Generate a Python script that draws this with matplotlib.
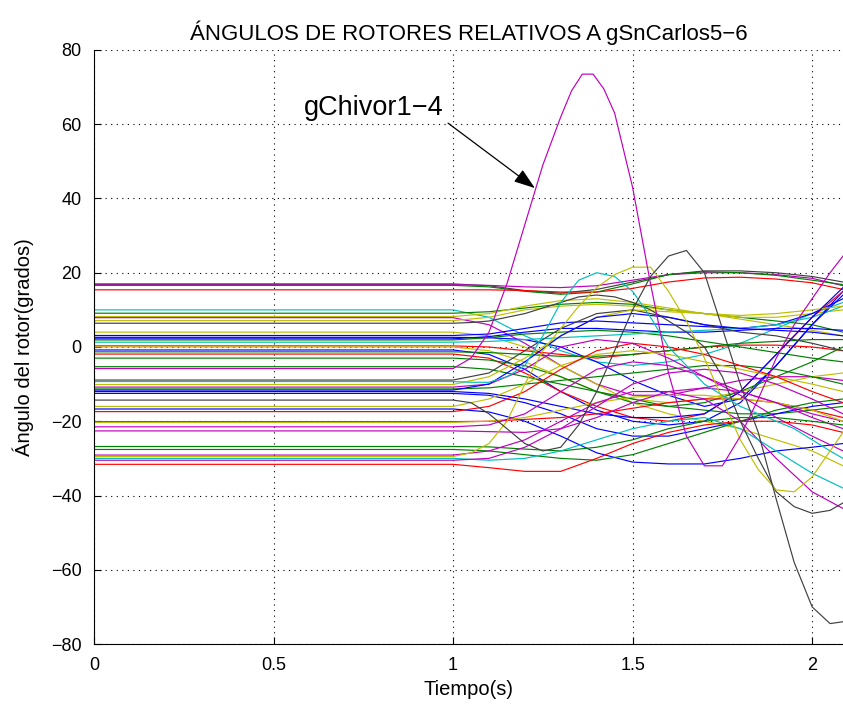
import matplotlib
matplotlib.use("Agg")
import matplotlib.pyplot as plt

plt.rcParams['font.family'] = ['Liberation Sans', 'DejaVu Sans']

# colores tipo MATLAB
B = (0, 0, 1)
G = (0, 0.5, 0)
R = (1, 0, 0)
C = (0, 0.75, 0.75)
M = (0.75, 0, 0.75)
Y = (0.75, 0.75, 0)
K = (0.25, 0.25, 0.25)

# tiempos de lectura (s)
t_coarse = [0, 1.0, 1.1, 1.2, 1.3, 1.4, 1.5, 1.6, 1.7, 1.8, 1.9, 2.0, 2.086]
t_fine = [0, 1.0, 1.05, 1.1, 1.15, 1.2, 1.25, 1.3, 1.35, 1.4, 1.45, 1.5, 1.55,
          1.6, 1.65, 1.7, 1.75, 1.8, 1.85, 1.9, 1.95, 2.0, 2.05, 2.086]
t_chivor = [0, 1.0, 1.05, 1.1, 1.15, 1.2, 1.25, 1.3, 1.33, 1.36, 1.39, 1.42, 1.45,
            1.5, 1.55, 1.6, 1.65, 1.7, 1.75, 1.8, 1.85, 1.9, 1.95, 2.0, 2.05, 2.086]

line_colors = [K, M, G, R, C, G, Y, M, Y,
               Y, B, B, B, G, C, R, Y, B, G,
               R, G, G, K, Y, M, G, B, B,
               B, Y, B, R, R, Y, M, M, G, G,
               M, C, M, R]
coarse_angles = [
    [17.0, 17.0, 16.5, 15.2, 14.5, 15.5, 17.5, 19.5, 20.5, 20.5, 20.0, 19.0, 17.5],
    [16.8, 16.8, 16.6, 16.2, 16.0, 16.5, 18.0, 19.5, 20.0, 20.0, 19.5, 18.5, 16.5],
    [16.6, 16.6, 16.2, 15.0, 14.2, 14.8, 17.0, 19.5, 20.3, 20.0, 19.3, 18.0, 16.8],
    [15.4, 15.4, 15.4, 15.2, 14.8, 14.8, 15.8, 17.5, 18.6, 18.8, 18.3, 17.3, 15.5],
    [10.0, 10.0, 8.0, 3.0, -1.0, -4.0, -5.0, -4.0, -2.0, 1.0, 5.0, 9.0, 12.0],
    [9.1, 9.1, 9.5, 10.5, 11.5, 12.0, 11.5, 10.0, 9.0, 8.0, 7.0, 6.0, 4.0],
    [8.2, 8.2, 9.0, 11.0, 12.5, 13.0, 12.0, 10.5, 9.0, 7.5, 6.0, 4.5, 3.0],
    [7.9, 7.9, 6.0, 1.0, -5.0, -10.0, -13.0, -13.0, -11.0, -9.0, -8.0, -8.0, -9.0],
    [7.1, 7.1, 8.0, 10.0, 11.0, 11.5, 11.0, 10.0, 9.0, 8.0, 8.0, 9.0, 10.0],
    [4.0, 4.0, 3.0, 0.0, -5.0, -10.0, -15.0, -18.0, -20.0, -22.0, -25.0, -28.0, -32.0],
    [3.1, 3.1, 3.5, 5.0, 6.5, 7.0, 6.5, 6.0, 5.5, 5.0, 6.0, 9.0, 13.0],
    [2.6, 2.6, 2.5, 2.0, 0.0, -4.0, -9.0, -13.0, -16.0, -14.0, -5.0, 6.0, 15.0],
    [2.2, 2.2, 2.8, 4.0, 5.0, 5.0, 4.5, 4.0, 4.0, 4.5, 5.0, 5.0, 4.5],
    [1.9, 1.9, 2.5, 3.5, 4.0, 4.5, 4.0, 3.0, 1.5, 0.0, -1.5, -3.0, -4.0],
    [1.3, 1.3, 1.5, 2.0, 2.5, 3.0, 3.5, 4.0, 4.5, 5.0, 6.0, 8.0, 11.0],
    [0.3, 0.3, 0.0, -1.0, -2.0, -3.0, -2.0, -1.0, 0.0, 0.5, 0.5, 0.0, -1.0],
    [0.0, 0.0, -1.0, -4.0, -8.0, -12.0, -14.0, -15.0, -14.0, -12.0, -10.0, -8.0, -7.0],
    [-0.8, -0.8, -2.0, -6.0, -12.0, -17.0, -20.0, -21.0, -20.0, -15.0, -5.0, 6.0, 14.0],
    [-1.3, -1.3, -1.5, -2.0, -2.5, -2.5, -2.0, -1.0, 0.0, 1.0, 1.5, 2.0, 2.0],
    [-1.9, -1.9, -3.0, -7.0, -12.0, -16.0, -19.0, -20.0, -18.0, -12.0, -2.0, 8.0, 15.0],
    [-3.0, -3.0, -3.5, -5.0, -8.0, -12.0, -15.0, -16.0, -15.0, -12.0, -8.0, -4.0, 0.0],
    [-5.3, -5.3, -6.0, -8.0, -10.0, -12.0, -14.0, -16.0, -17.0, -18.0, -18.0, -17.0, -16.0],
    [-8.9, -8.9, -7.0, -1.0, 5.0, 9.0, 10.0, 8.0, 6.0, 4.0, 3.0, 1.0, -1.0],
    [-10.1, -10.1, -8.0, -3.0, 3.0, 8.0, 10.0, 9.5, 9.0, 8.5, 9.0, 10.0, 11.0],
    [-10.8, -10.8, -10.0, -6.0, 0.0, 2.0, 1.0, -3.0, -8.0, -12.0, -15.0, -18.0, -20.0],
    [-11.3, -11.3, -11.0, -10.0, -9.0, -8.0, -7.0, -6.0, -5.0, -5.0, -6.0, -8.0, -10.0],
    [-11.6, -11.6, -10.0, -4.0, 3.0, 8.0, 9.0, 8.0, 6.0, 5.0, 4.5, 4.0, 3.0],
    [-12.0, -12.0, -12.5, -14.0, -16.0, -18.0, -19.0, -19.0, -18.0, -12.0, -2.0, 8.0, 16.0],
    [-12.5, -12.5, -13.0, -15.0, -18.0, -22.0, -24.0, -24.0, -22.0, -20.0, -18.0, -16.0, -15.0],
    [-16.0, -16.0, -14.0, -10.0, -5.0, -2.0, -1.0, -2.0, -4.0, -6.0, -8.0, -10.0, -12.0],
    [-16.7, -16.7, -17.5, -20.0, -24.0, -28.5, -31.0, -31.5, -31.5, -30.0, -28.0, -27.0, -26.0],
    [-17.4, -17.4, -16.0, -12.0, -6.0, -1.0, 1.0, 0.0, -2.0, -5.0, -8.0, -12.0, -15.0],
    [-20.1, -20.1, -20.0, -19.5, -19.0, -18.0, -16.5, -15.0, -14.0, -14.0, -15.0, -17.0, -19.0],
    [-20.3, -20.3, -20.0, -19.0, -17.0, -15.0, -13.5, -13.0, -13.0, -14.0, -15.0, -17.0, -20.0],
    [-21.5, -21.5, -21.0, -18.0, -12.0, -6.0, -4.0, -5.0, -8.0, -13.0, -19.0, -24.0, -28.0],
    [-22.6, -22.6, -22.8, -23.0, -22.0, -19.0, -15.0, -12.0, -11.0, -12.0, -15.0, -19.0, -22.0],
    [-26.8, -26.8, -26.9, -27.5, -28.0, -27.0, -25.0, -22.0, -20.0, -19.0, -19.0, -20.0, -21.0],
    [-27.6, -27.6, -28.0, -29.0, -30.0, -30.5, -29.0, -26.0, -23.0, -20.0, -17.0, -15.0, -14.0],
    [-29.1, -29.1, -28.0, -25.0, -20.0, -15.0, -12.0, -12.0, -14.0, -20.0, -30.0, -39.0, -43.5],
    [-30.0, -30.0, -30.5, -30.0, -28.0, -25.0, -22.0, -20.0, -19.0, -22.0, -28.0, -34.0, -38.0],
    [-30.5, -30.5, -30.0, -27.0, -22.0, -16.0, -10.0, -7.0, -6.0, -7.0, -10.0, -14.0, -18.0],
    [-31.6, -31.6, -32.5, -33.5, -33.5, -30.0, -26.0, -23.0, -21.0, -20.0, -20.0, -21.0, -23.0],
]

fine_colors = [K, C, Y, K]
fine_angles = [
    [6.4, 6.4, 6.6, 7.0, 8.0, 9.0, 10.5, 12.0, 13.5, 14.0, 13.5, 12.0, 10.0,
     7.0, 4.0, 0.0, -8.0, -20.0, -30.0, -39.0, -43.0, -44.8, -44.0, -42.0],
    [-9.3, -9.3, -9.5, -9.5, -8.0, -5.0, 3.0, 12.0, 18.0, 20.0, 19.0, 15.0, 8.0,
     0.0, -5.0, -10.0, -13.0, -16.0, -18.0, -20.0, -22.0, -25.0, -28.0, -30.0],
    [-29.5, -29.5, -28.5, -26.0, -20.0, -10.0, -1.0, 5.0, 11.0, 16.0, 19.5, 21.5, 21.5,
     15.0, 7.0, -3.0, -14.0, -25.0, -33.0, -38.5, -39.0, -35.0, -28.0, -23.0],
    [-14.3, -14.3, -15.0, -18.0, -22.0, -26.0, -28.0, -27.0, -21.0, -12.0, -1.0, 10.0, 19.0,
     24.5, 26.0, 20.0, 5.0, -10.0, -23.0, -41.0, -58.0, -70.0, -74.5, -74.0],
]

chivor = [-5.8, -5.8, -3.0, 4.0, 17.0, 33.0, 49.0, 62.0, 69.0, 73.5, 73.5, 69.5, 63.0,
          43.0, 17.0, -7.0, -24.0, -32.0, -32.0, -24.0, -14.0, -3.0, 6.0, 13.0, 20.0, 24.5]

fig = plt.figure(figsize=(8.43, 7.06), dpi=100)
ax = fig.add_axes([0.1115, 0.0878, 0.8885, 0.8414])

for col, vals in zip(line_colors, coarse_angles):
    ax.plot(t_coarse, vals, color=col, lw=0.85)
for col, vals in zip(fine_colors, fine_angles):
    ax.plot(t_fine, vals, color=col, lw=0.85)
ax.plot(t_chivor, chivor, color=M, lw=0.85)

ax.set_xlim(0, 2.086)
ax.set_ylim(-80, 80)
ax.set_xticks([0, 0.5, 1, 1.5, 2])
ax.set_xticklabels(['0', '0.5', '1', '1.5', '2'])
ax.set_yticks(range(-80, 81, 20))
ax.grid(True, color='black', linestyle=(0, (1, 4)), linewidth=0.8)
ax.spines['top'].set_visible(False)
ax.spines['right'].set_visible(False)
ax.tick_params(direction='in', length=5, labelsize=13, pad=9)

ax.set_title('ÁNGULOS DE ROTORES RELATIVOS A gSnCarlos5\u22126', fontsize=16, pad=7)
ax.set_xlabel('Tiempo(s)', fontsize=14.5, labelpad=5)
ax.set_ylabel('Ángulo del rotor(grados)', fontsize=14.5, labelpad=12)

ax.text(0.78, 64.5, 'gChivor1\u22124', fontsize=19.5, ha='center', va='center')
ax.annotate('', xy=(1.228, 42.8), xytext=(0.986, 60.3),
            arrowprops=dict(arrowstyle='-|>,head_length=1.3,head_width=0.45',
                            color='black', lw=0.9, shrinkA=0, shrinkB=0))

fig.savefig('out.png', dpi=100)
